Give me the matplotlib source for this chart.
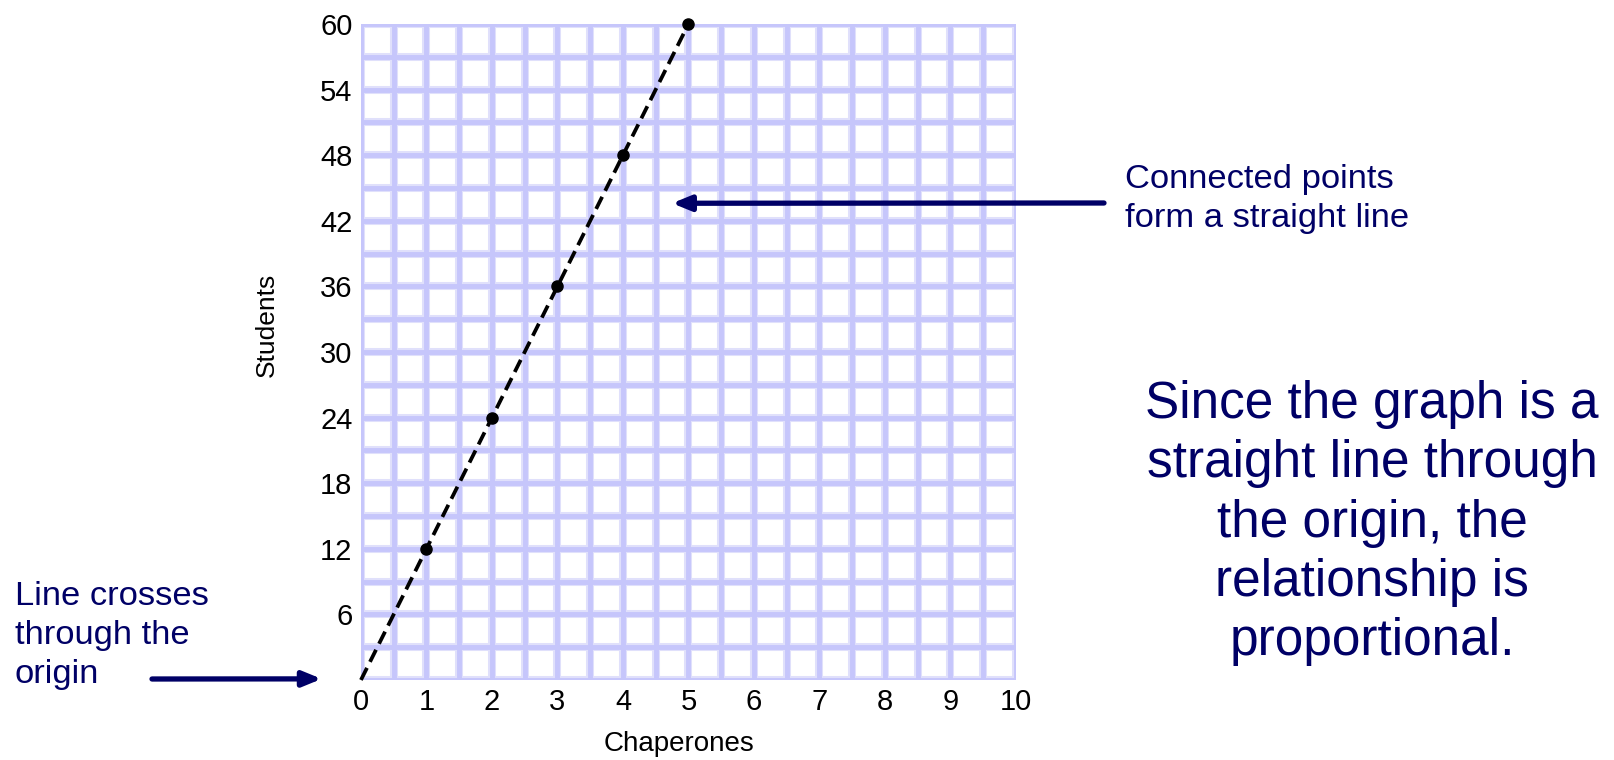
import numpy as np
import matplotlib.pyplot as plt

plt.rcParams["font.family"] = ["Liberation Sans", "DejaVu Sans"]

# data
chaperones = [0, 1, 2, 3, 4, 5]
students = [0, 12, 24, 36, 48, 60]
x_ticks = list(range(0, 11))
y_ticks = [6, 12, 18, 24, 30, 36, 42, 48, 54, 60]

NAVY = "#000066"
GRID = "#c6c6fb"
GRID_HALO = "#e0e0fb"


def draw_grid(ax):
    xs = np.arange(0, 10.01, 0.5)
    ys = np.arange(0, 60.01, 3)
    for x in xs:
        ax.axvline(x, color=GRID_HALO, lw=5.8, zorder=0)
    for y in ys:
        ax.axhline(y, color=GRID_HALO, lw=5.8, zorder=0)
    for x in xs:
        ax.axvline(x, color=GRID, lw=3.5, zorder=1)
    for y in ys:
        ax.axhline(y, color=GRID, lw=3.5, zorder=1)


def main():
    fig = plt.figure(figsize=(16.15, 7.6), dpi=100)
    ax = fig.add_axes([0.2235, 0.1053, 0.4056, 0.8632])
    ax.set_xlim(0, 10)
    ax.set_ylim(0, 60)
    for s in ax.spines.values():
        s.set_visible(False)

    draw_grid(ax)

    ax.plot(chaperones, students, color="black", lw=2.7, ls=(0, (3.6, 1.8)),
            marker="o", ms=8, markevery=list(range(1, len(chaperones))),
            zorder=5, clip_on=False)

    ax.set_xticks(x_ticks)
    ax.set_yticks(y_ticks)
    ax.tick_params(length=0, labelsize=21, pad=6)
    ax.set_xlabel("Chaperones", fontsize=20)
    ax.set_ylabel("Students", fontsize=19)
    ax.xaxis.set_label_coords(0.485, -0.078)
    ax.yaxis.set_label_coords(-0.125, 0.541)

    # arrows
    ax.annotate("", xy=(4.75, 43.6), xycoords="data",
                xytext=(1104 / 1615, 1 - 203 / 760), textcoords="figure fraction",
                arrowprops=dict(arrowstyle="-|>,head_length=1.1,head_width=0.45",
                                color=NAVY, lw=3.8, shrinkA=0, shrinkB=0),
                annotation_clip=False)
    ax.annotate("", xy=(-0.6, 0.1), xycoords="data",
                xytext=(152 / 1615, 1 - 679 / 760), textcoords="figure fraction",
                arrowprops=dict(arrowstyle="-|>,head_length=1.1,head_width=0.45",
                                color=NAVY, lw=3.8, shrinkA=0, shrinkB=0),
                annotation_clip=False)

    fig.text(1125 / 1615, 1 - 164 / 760, "Connected points\nform a straight line",
             color=NAVY, fontsize=24.8, ha="left", va="top", linespacing=1.32)
    fig.text(15 / 1615, 1 - 581 / 760, "Line crosses\nthrough the\norigin",
             color=NAVY, fontsize=24.8, ha="left", va="top", linespacing=1.33)
    fig.text(1372 / 1615, 1 - 380 / 760,
             "Since the graph is a\nstraight line through\nthe origin, the\n"
             "relationship is\nproportional.",
             color=NAVY, fontsize=37, ha="center", va="top", linespacing=1.27,
             multialignment="center")

    fig.savefig("out.png", dpi=100, facecolor="white")


if __name__ == "__main__":
    main()
